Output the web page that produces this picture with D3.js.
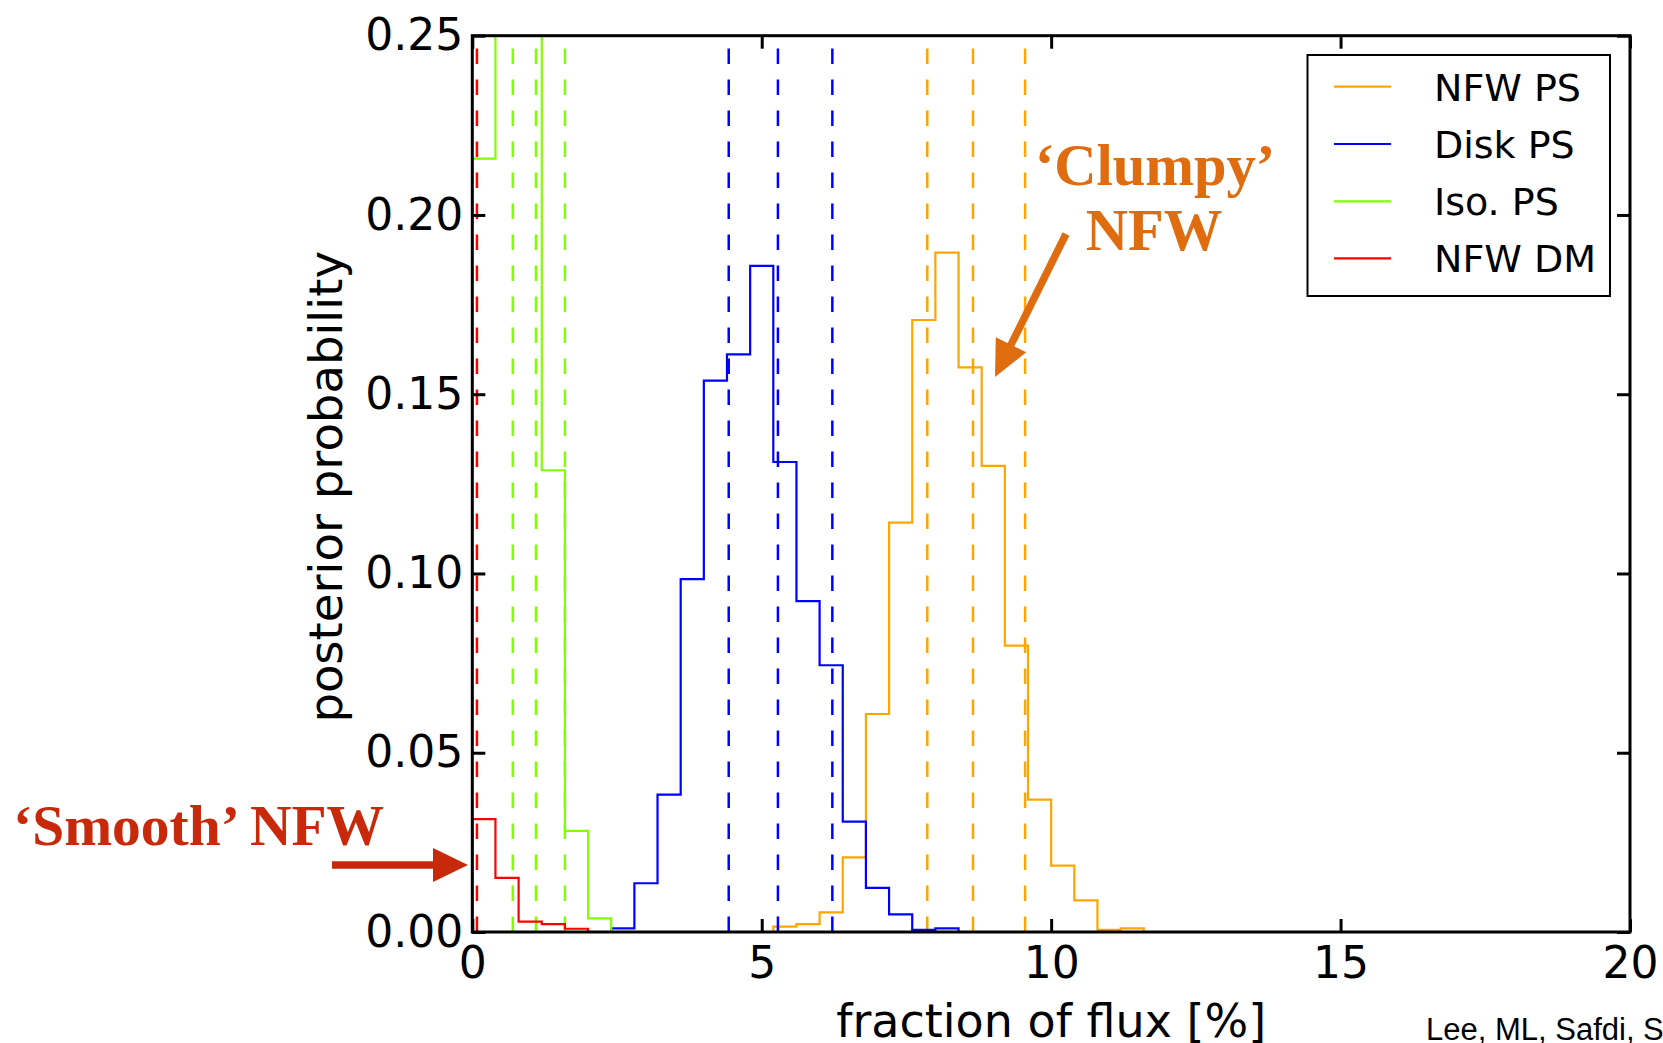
<!DOCTYPE html>
<html>
<head>
<meta charset="utf-8">
<script src="https://cdn.jsdelivr.net/npm/d3@7"></script>
<style>
  html, body { margin: 0; padding: 0; background: #fff; }
  svg { display: block; }
</style>
</head>
<body>
<svg id="chart" width="1663" height="1043"></svg>
<script>
// ---------------- data ----------------
const binWidth = 0.4;                 // histogram bin width (% of flux)
const xTicks = [0, 5, 10, 15, 20];
const yTicks = [0, 0.05, 0.10, 0.15, 0.20, 0.25];

// bin values, starting at the given left edge
const nfwPSStart = 5.2;
const nfwPS   = [0.0015, 0.0022, 0.0055, 0.0208, 0.0608, 0.1142, 0.1707, 0.1895,
                 0.1575, 0.1300, 0.0799, 0.0369, 0.0185, 0.0088, 0.0006, 0.0010];
const diskPSStart = 2.4;
const diskPS  = [0.0010, 0.0136, 0.0383, 0.0984, 0.1538, 0.1611, 0.1858, 0.1311,
                 0.0923, 0.0744, 0.0308, 0.0123, 0.0049, 0.0006, 0.0010];
const isoPSStart = 0.0;
const isoPS   = [0.2157, 0.3400, 0.2835, 0.1288, 0.0282, 0.0038];
const nfwDMStart = 0.0;
const nfwDM   = [0.0315, 0.0151, 0.0029, 0.0022, 0.0009];

// dashed quantile lines (16th, 50th, 84th percentiles)
const nfwPSQ  = [7.86, 8.65, 9.55];
const diskPSQ = [4.43, 5.28, 6.22];
const isoPSQ  = [0.70, 1.10, 1.60];
const nfwDMQ  = [0.08];

const seriesNames  = ["NFW PS", "Disk PS", "Iso. PS", "NFW DM"];
const seriesColors = ["#ffa500", "#0000ff", "#7fff00", "#ff0000"];

// ---------------- layout ----------------
const svg = d3.select("#chart");
const L = 472.3, R = 1630, T = 35.7, B = 932;
const x = d3.scaleLinear().domain([0, 20]).range([L, R]);
const y = d3.scaleLinear().domain([0, 0.25]).range([B, T]);
const FONT = "'DejaVu Sans', sans-serif";

svg.append("defs").append("clipPath").attr("id", "plotclip")
  .append("rect").attr("x", L).attr("y", T).attr("width", R - L).attr("height", B - T);

const plot = svg.append("g").attr("clip-path", "url(#plotclip)");

const series = [
  { name: seriesNames[0], color: seriesColors[0], start: nfwPSStart, vals: nfwPS, q: nfwPSQ },
  { name: seriesNames[1], color: seriesColors[1], start: diskPSStart, vals: diskPS, q: diskPSQ },
  { name: seriesNames[2], color: seriesColors[2], start: isoPSStart, vals: isoPS, q: isoPSQ },
  { name: seriesNames[3], color: seriesColors[3], start: nfwDMStart, vals: nfwDM, q: nfwDMQ },
];

function stepPath(s) {
  const pts = [[0, 0], [s.start, 0]];
  s.vals.forEach((v, i) => {
    const x0 = s.start + i * binWidth, x1 = x0 + binWidth;
    pts.push([x0, v], [x1, v]);
  });
  const end = s.start + s.vals.length * binWidth;
  pts.push([end, 0], [20, 0]);
  return d3.line().x(d => x(d[0])).y(d => y(d[1]))(pts);
}

series.forEach(s => {
  plot.append("path")
    .attr("d", stepPath(s))
    .attr("fill", "none")
    .attr("stroke", s.color)
    .attr("stroke-width", 2.2)
    .attr("stroke-linejoin", "miter");
  plot.selectAll(null).data(s.q).enter().append("line")
    .attr("x1", d => x(d)).attr("x2", d => x(d))
    .attr("y1", y(0)).attr("y2", y(0.25))
    .attr("stroke", s.color)
    .attr("stroke-width", 2.5)
    .attr("stroke-dasharray", "15.5,15.5");
});

// ---------------- axes ----------------
const xAxis = svg.append("g").attr("transform", `translate(0,${B})`)
  .call(d3.axisBottom(x).tickValues(xTicks).tickSize(-13).tickPadding(15).tickFormat(d3.format("d")));
const yAxis = svg.append("g").attr("transform", `translate(${L},0)`)
  .call(d3.axisLeft(y).tickValues(yTicks).tickSize(-13).tickPadding(9).tickFormat(d3.format(".2f")));
const xTop = svg.append("g").attr("transform", `translate(0,${T})`)
  .call(d3.axisTop(x).tickValues(xTicks).tickSize(-13).tickFormat(""));
const yRight = svg.append("g").attr("transform", `translate(${R},0)`)
  .call(d3.axisRight(y).tickValues(yTicks).tickSize(-13).tickFormat(""));

[xAxis, yAxis, xTop, yRight].forEach(g => {
  g.select(".domain").remove();
  g.selectAll(".tick line").attr("stroke", "#000").attr("stroke-width", 3);
  g.selectAll(".tick text").attr("fill", "#000")
    .style("font-family", FONT).style("font-size", "44px");
});

svg.append("rect")
  .attr("x", L).attr("y", T).attr("width", R - L).attr("height", B - T)
  .attr("fill", "none").attr("stroke", "#000").attr("stroke-width", 3);

// axis labels
svg.append("text")
  .attr("x", (L + R) / 2).attr("y", 1037)
  .attr("text-anchor", "middle")
  .style("font-family", FONT).style("font-size", "46px")
  .text("fraction of flux [%]");
svg.append("text")
  .attr("transform", `translate(342,${(T + B) / 2 + 3}) rotate(-90)`)
  .attr("text-anchor", "middle")
  .style("font-family", FONT).style("font-size", "46.5px")
  .text("posterior probability");

// ---------------- legend ----------------
const lg = svg.append("g");
lg.append("rect").attr("x", 1307.5).attr("y", 55).attr("width", 302.5).attr("height", 241)
  .attr("fill", "#fff").attr("stroke", "#000").attr("stroke-width", 2);
const legY = [86.7, 144, 201.3, 258.3];
series.forEach((s, i) => {
  lg.append("line").attr("x1", 1334).attr("x2", 1391)
    .attr("y1", legY[i]).attr("y2", legY[i])
    .attr("stroke", s.color).attr("stroke-width", 2.2);
  lg.append("text").attr("x", 1434).attr("y", legY[i] + 14)
    .style("font-family", FONT).style("font-size", "38px")
    .text(s.name);
});

// ---------------- annotations ----------------
const SERIF = "'Liberation Serif', 'Times New Roman', serif";
const smoothColor = "#c8290b", clumpyColor = "#e06c10";

svg.append("text").attr("x", 13).attr("y", 845)
  .style("font-family", SERIF).style("font-size", "57.5px").style("font-weight", "bold")
  .attr("fill", smoothColor).text("\u2018Smooth\u2019 NFW");
svg.append("line").attr("x1", 332).attr("x2", 436).attr("y1", 865).attr("y2", 865)
  .attr("stroke", smoothColor).attr("stroke-width", 7.5);
svg.append("path").attr("d", "M433,848 L468,865 L433,882 Z").attr("fill", smoothColor);

svg.append("text").attr("x", 1155).attr("y", 185).attr("text-anchor", "middle")
  .style("font-family", SERIF).style("font-size", "58.5px").style("font-weight", "bold")
  .attr("fill", clumpyColor).text("\u2018Clumpy\u2019");
svg.append("text").attr("x", 1154).attr("y", 250).attr("text-anchor", "middle")
  .style("font-family", SERIF).style("font-size", "58.5px").style("font-weight", "bold")
  .attr("fill", clumpyColor).text("NFW");
(function () {
  const sx = 1066, sy = 234, tx = 995, ty = 377;
  const dx = tx - sx, dy = ty - sy, len = Math.hypot(dx, dy);
  const ux = dx / len, uy = dy / len, px = -uy, py = ux;
  const hl = 36, hw = 17;
  const bx = tx - ux * hl, by = ty - uy * hl;
  svg.append("line").attr("x1", sx).attr("y1", sy).attr("x2", bx + ux * 3).attr("y2", by + uy * 3)
    .attr("stroke", clumpyColor).attr("stroke-width", 7.5);
  svg.append("path")
    .attr("d", `M${tx},${ty} L${bx + px * hw},${by + py * hw} L${bx - px * hw},${by - py * hw} Z`)
    .attr("fill", clumpyColor);
})();

// credit
svg.append("text").attr("x", 1426).attr("y", 1040)
  .style("font-family", "'Liberation Sans', Arial, sans-serif").style("font-size", "31px")
  .text("Lee, ML, Safdi, Slatyer, Xue");
</script>
</body>
</html>
